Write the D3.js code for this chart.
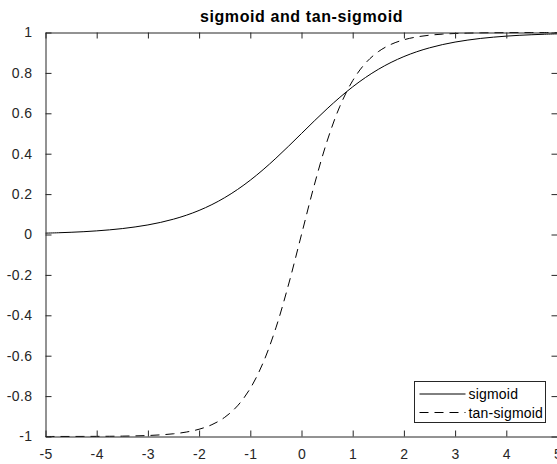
<!DOCTYPE html>
<html>
<head>
<meta charset="utf-8">
<script src="https://cdn.jsdelivr.net/npm/d3@7"></script>
<style>
  body { margin: 0; background: #fff; }
  svg { display: block; font-family: "Liberation Sans", Arial, sans-serif; }
</style>
</head>
<body>
<div id="chart"></div>
<script>
/*********************
	Data
**********************/
var xs = [-5, -4.75, -4.5, -4.25, -4, -3.75, -3.5, -3.25, -3, -2.75, -2.5, -2.25, -2, -1.75, -1.5, -1.25, -1, -0.75, -0.5, -0.25,
          0, 0.25, 0.5, 0.75, 1, 1.25, 1.5, 1.75, 2, 2.25, 2.5, 2.75, 3, 3.25, 3.5, 3.75, 4, 4.25, 4.5, 4.75, 5];

var sigmoid_vals = [0.0067, 0.0086, 0.0110, 0.0140, 0.0180, 0.0230, 0.0293, 0.0374, 0.0474, 0.0601, 0.0759, 0.0953, 0.1192, 0.1480, 0.1824, 0.2227, 0.2689, 0.3208, 0.3775, 0.4378,
                    0.5, 0.5622, 0.6225, 0.6792, 0.7311, 0.7773, 0.8176, 0.8520, 0.8808, 0.9047, 0.9241, 0.9399, 0.9526, 0.9626, 0.9707, 0.9770, 0.9820, 0.9860, 0.9890, 0.9914, 0.9933];

var tansig_vals = [-0.9999, -0.9998, -0.9998, -0.9996, -0.9993, -0.9989, -0.9982, -0.9970, -0.9951, -0.9918, -0.9866, -0.9780, -0.9640, -0.9414, -0.9051, -0.8483, -0.7616, -0.6351, -0.4621, -0.2449,
                   0, 0.2449, 0.4621, 0.6351, 0.7616, 0.8483, 0.9051, 0.9414, 0.9640, 0.9780, 0.9866, 0.9918, 0.9951, 0.9970, 0.9982, 0.9989, 0.9993, 0.9996, 0.9998, 0.9998, 0.9999];

var x_ticks = [-5, -4, -3, -2, -1, 0, 1, 2, 3, 4, 5];
var y_ticks = [-1, -0.8, -0.6, -0.4, -0.2, 0, 0.2, 0.4, 0.6, 0.8, 1];

var series = [
	{name: "sigmoid", values: sigmoid_vals, dash: null},
	{name: "tan-sigmoid", values: tansig_vals, dash: "9,6"}
];

/*********************
	Layout
**********************/
var width = 557, height = 464;
var margin = {left: 45.5, right: -0.5, top: 32.5, bottom: 27.5};
var plot_w = width - margin.left - margin.right;
var plot_h = height - margin.top - margin.bottom;
var axis_color = "#262626";
var tick_len = 6;

var svg = d3.select("#chart").append("svg")
	.attr("width", width)
	.attr("height", height);

var g = svg.append("g")
	.attr("transform", "translate(" + margin.left + "," + margin.top + ")");

var x = d3.scaleLinear().domain([-5, 5]).range([0, plot_w]);
var y = d3.scaleLinear().domain([-1, 1]).range([plot_h, 0]);

// title
svg.append("text")
	.attr("x", margin.left + plot_w / 2)
	.attr("y", 22)
	.attr("text-anchor", "middle")
	.style("font-size", "16px")
	.style("font-weight", "bold")
	.style("letter-spacing", "0.6px")
	.style("fill", "#000")
	.text("sigmoid and tan-sigmoid");

/*********************
	Lines
**********************/
var line_gen = function(vals) {
	return d3.line()
		.x(function(d, i) { return x(xs[i]); })
		.y(function(d) { return y(d); })
		.curve(d3.curveCatmullRom)(vals);
};

series.forEach(function(s) {
	g.append("path")
		.attr("d", line_gen(s.values))
		.attr("fill", "none")
		.attr("stroke", "#000")
		.attr("stroke-width", 1)
		.attr("stroke-dasharray", s.dash);
});

/*********************
	Axes (ticks inward, box)
**********************/
// plain hyphen for negatives, like the original
var fmt = function(d) { return String(+d.toFixed(1)); };

var x_axis = g.append("g")
	.attr("transform", "translate(0," + plot_h + ")")
	.call(d3.axisBottom(x).tickValues(x_ticks).tickSizeInner(-tick_len).tickSizeOuter(0).tickPadding(13).tickFormat(fmt));

var x_top = g.append("g")
	.call(d3.axisTop(x).tickValues(x_ticks).tickSizeInner(-tick_len).tickSizeOuter(0).tickFormat(""));

var y_axis = g.append("g")
	.call(d3.axisLeft(y).tickValues(y_ticks).tickSizeInner(-tick_len).tickSizeOuter(0).tickPadding(13).tickFormat(fmt));

var y_right = g.append("g")
	.attr("transform", "translate(" + plot_w + ",0)")
	.call(d3.axisRight(y).tickValues(y_ticks).tickSizeInner(-tick_len).tickSizeOuter(0).tickFormat(""));

[x_axis, x_top, y_axis, y_right].forEach(function(a) {
	a.selectAll("path.domain").attr("stroke", axis_color);
	a.selectAll("line").attr("stroke", axis_color);
	a.selectAll("text")
		.style("font-size", "14px")
		.style("letter-spacing", "0.4px")
		.style("font-family", "'Liberation Sans', Arial, sans-serif")
		.attr("fill", "#262626");
});

/*********************
	Legend
**********************/
var leg = g.append("g")
	.attr("transform", "translate(" + (414.5 - margin.left) + "," + (381.5 - margin.top) + ")");

leg.append("rect")
	.attr("width", 131)
	.attr("height", 41)
	.attr("fill", "#fff")
	.attr("stroke", "#262626")
	.attr("stroke-width", 1);

series.forEach(function(s, i) {
	var row_y = 12.5 + i * 18.5;
	leg.append("line")
		.attr("x1", 5).attr("x2", 51)
		.attr("y1", row_y).attr("y2", row_y)
		.attr("stroke", "#000")
		.attr("stroke-dasharray", s.dash);
	leg.append("text")
		.attr("x", 54)
		.attr("y", row_y + 5)
		.style("font-size", "14px")
		.style("letter-spacing", "0.2px")
		.style("fill", "#000")
		.text(s.name);
});
</script>
</body>
</html>
